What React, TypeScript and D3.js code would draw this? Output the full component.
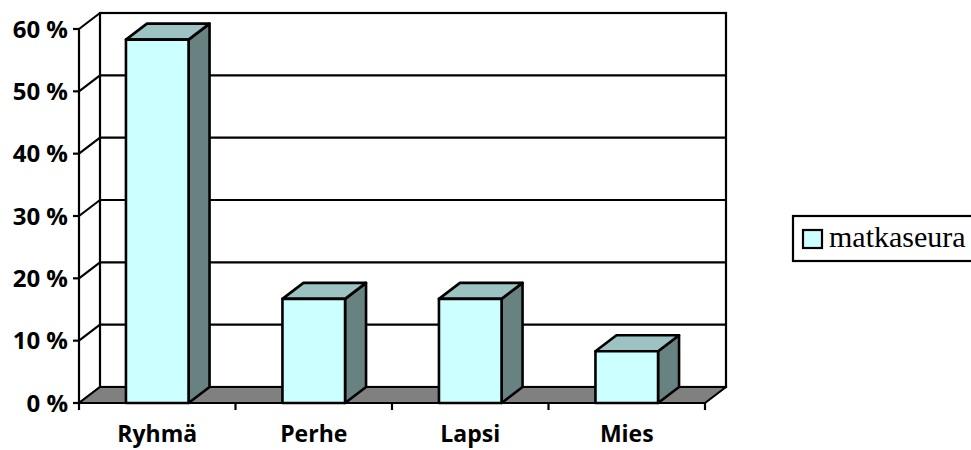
import React from "react";
import * as d3 from "d3";

// Travel company share by category
const categories = ["Ryhmä", "Perhe", "Lapsi", "Mies"];
const values = [58.3, 16.7, 16.7, 8.3];
const yTicks = [0, 10, 20, 30, 40, 50, 60];
const seriesName = "matkaseura";

const W = 971;
const H = 450;

// plot geometry: front plane and the depth offset of the back wall
const left = 79;
const right = 705;
const bottom = 403;
const top = 29;
const dx = 21;
const dy = -16;

const COLORS = {
  front: "#CCFFFF",
  top: "#9CC3C1",
  side: "#678280",
  floor: "#808080",
  line: "#000000",
};

export default function App() {
  const y = d3.scaleLinear().domain([0, 60]).range([bottom, top]);
  const x = d3
    .scaleBand<string>()
    .domain(categories)
    .range([left, right])
    .paddingInner(0.6)
    .paddingOuter(0.3);

  const step = x.step();
  const bw = x.bandwidth();
  const sw = 2.2;
  const barSw = 2.6;

  const pts = (arr: [number, number][]) => arr.map((p) => p.join(",")).join(" ");

  const labelFont = "'Open Sans', 'DejaVu Sans', sans-serif";

  return (
    <svg
      width={W}
      height={H}
      style={{ position: "absolute", left: 0, top: 0, background: "#fff" }}
    >
      {/* back wall */}
      <rect
        x={left + dx}
        y={top + dy}
        width={right - left}
        height={bottom - top}
        fill="#fff"
        stroke={COLORS.line}
        strokeWidth={sw}
      />
      {/* back wall gridlines */}
      {yTicks.map((t) => (
        <line
          key={`g${t}`}
          x1={left + dx}
          x2={right + dx}
          y1={y(t) + dy}
          y2={y(t) + dy}
          stroke={COLORS.line}
          strokeWidth={sw}
        />
      ))}
      {/* side wall diagonals */}
      {yTicks.map((t) => (
        <line
          key={`d${t}`}
          x1={left}
          x2={left + dx}
          y1={y(t)}
          y2={y(t) + dy}
          stroke={COLORS.line}
          strokeWidth={sw}
        />
      ))}
      {/* floor */}
      <polygon
        points={pts([
          [left, bottom],
          [right, bottom],
          [right + dx, bottom + dy],
          [left + dx, bottom + dy],
        ])}
        fill={COLORS.floor}
        stroke={COLORS.line}
        strokeWidth={sw}
        strokeLinejoin="round"
      />
      {/* value axis */}
      <line x1={left} x2={left} y1={top} y2={bottom} stroke={COLORS.line} strokeWidth={sw} />
      {yTicks.map((t) => (
        <g key={`t${t}`}>
          <line x1={left - 6} x2={left} y1={y(t)} y2={y(t)} stroke={COLORS.line} strokeWidth={sw} />
          <text
            x={68}
            y={y(t)}
            dy="0.36em"
            textAnchor="end"
            fontFamily={labelFont}
            fontWeight="bold"
            fontSize={24}
            fill="#000"
          >
            {`${t} %`}
          </text>
        </g>
      ))}
      {/* bars */}
      {categories.map((c, i) => {
        const x0 = x(c)!;
        const x1 = x0 + bw;
        const yt = y(values[i]);
        return (
          <g key={c} stroke={COLORS.line} strokeWidth={barSw} strokeLinejoin="round">
            <polygon
              points={pts([
                [x1, bottom],
                [x1 + dx, bottom + dy],
                [x1 + dx, yt + dy],
                [x1, yt],
              ])}
              fill={COLORS.side}
            />
            <polygon
              points={pts([
                [x0, yt],
                [x1, yt],
                [x1 + dx, yt + dy],
                [x0 + dx, yt + dy],
              ])}
              fill={COLORS.top}
            />
            <rect x={x0} y={yt} width={bw} height={bottom - yt} fill={COLORS.front} />
          </g>
        );
      })}
      {/* category axis */}
      <line x1={left} x2={right} y1={bottom} y2={bottom} stroke={COLORS.line} strokeWidth={sw} />
      {d3.range(categories.length + 1).map((k) => (
        <line
          key={`ct${k}`}
          x1={left + k * step}
          x2={left + k * step}
          y1={bottom}
          y2={bottom + 7}
          stroke={COLORS.line}
          strokeWidth={sw}
        />
      ))}
      {categories.map((c) => (
        <text
          key={`l${c}`}
          x={x(c)! + bw / 2}
          y={442}
          textAnchor="middle"
          fontFamily={labelFont}
          fontWeight="bold"
          fontSize={23}
          fill="#000"
        >
          {c}
        </text>
      ))}
      {/* legend */}
      <rect x={793} y={216} width={190} height={45} fill="#fff" stroke={COLORS.line} strokeWidth={sw} />
      <rect x={803} y={230} width={19} height={18} fill={COLORS.front} stroke={COLORS.line} strokeWidth={sw} />
      <text
        x={829}
        y={247}
        fontFamily="'Liberation Serif', 'Times New Roman', serif"
        fontSize={30}
        fill="#000"
      >
        {seriesName}
      </text>
    </svg>
  );
}
